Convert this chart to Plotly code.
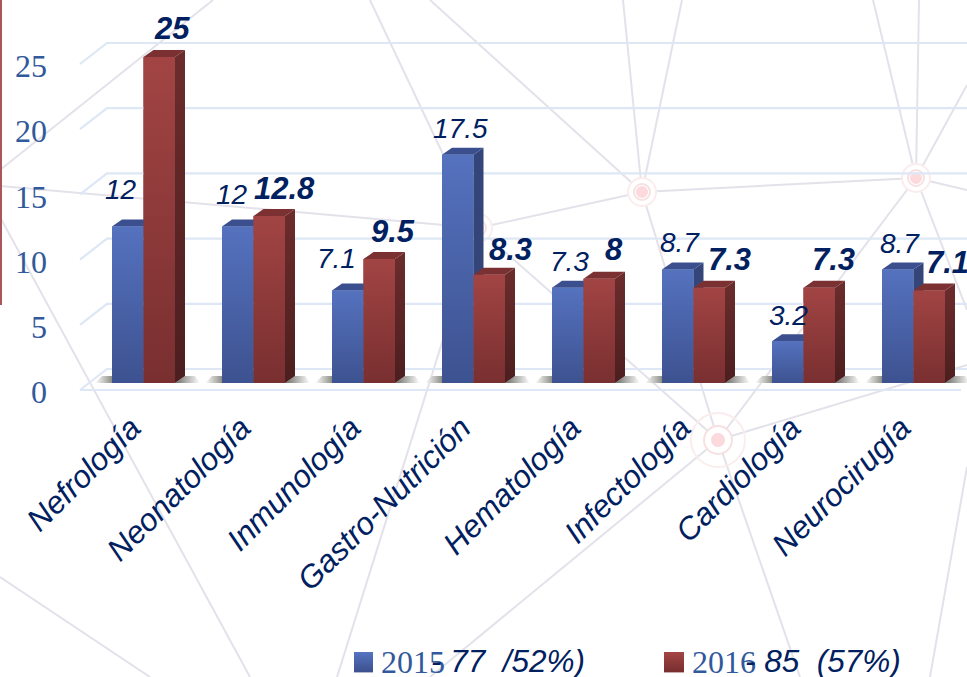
import plotly.graph_objects as go

# ---- data ----
categories = ["Nefrología", "Neonatología", "Inmunología", "Gastro-Nutrición",
              "Hematología", "Infectología", "Cardiología", "Neurocirugía"]
values_2015 = [12, 12, 7.1, 17.5, 7.3, 8.7, 3.2, 8.7]
values_2016 = [25, 12.8, 9.5, 8.3, 8, 7.3, 7.3, 7.1]
y_ticks = [0, 5, 10, 15, 20, 25]
series_names = ["2015", "2016"]
legend_notes = ["- 77\u00a0\u00a0/52%)", "- 85\u00a0\u00a0(57%)"]

# label placement (pixels relative to each bar's top centre)
shift_2015 = [(-7, 37), (-6, 32), (-11, 32), (3, 26), (2, 26), (2, 27), (1, 26), (2, 26)]
shift_2016 = [(13, 29), (15, 28), (14, 28), (21, 25), (15, 29), (20, 28), (14, 28), (18, 28)]

# ---- geometry / style ----
W, H = 967, 677
PLOT_L, PLOT_B = 48, 395
PX_X, PX_Y = 110.0, 13.04       # pixels per unit
X0_PX, Y0_PX = 143.5, 383.0     # pixel of first category and of value 0
BAR = 31.5 / PX_X
DX, DY = 10 / PX_X, 7 / PX_Y    # 3D depth

xr = [(PLOT_L - X0_PX) / PX_X, (W - X0_PX) / PX_X]
yr = [(Y0_PX - PLOT_B) / PX_Y, Y0_PX / PX_Y]
yr2 = [(392 - PLOT_B) / PX_Y, 392 / PX_Y]

NAVY = "#002060"
TICK = "#32599b"
GRID = "#dde7f5"
NET = "#e3e2ea"
SANS = "Liberation Sans"
SERIF = "Liberation Serif"

STYLE = {
    "2015": dict(base="#4a64ab", front=("#5572bf", "#3d5290"), side="#344679", top="#3b4f8e"),
    "2016": dict(base="#8c3838", front=("#a24444", "#792f30"), side=("#6c2c2c", "#4c1e1f"), top="#7b3132"),
}


def poly(xs, ys, color=None, grad=None, gtype="vertical"):
    kw = dict(x=xs, y=ys, mode="lines", line=dict(width=0), fill="toself",
              hoverinfo="skip", showlegend=False)
    if grad:
        kw["fillgradient"] = dict(type=gtype, colorscale=[[0, grad[0]], [1, grad[1]]])
        kw["fillcolor"] = grad[0]
    else:
        kw["fillcolor"] = color
    return go.Scatter(**kw)


def mix(c1, c2, t):
    a = [int(c1[i:i + 2], 16) for i in (1, 3, 5)]
    b = [int(c2[i:i + 2], 16) for i in (1, 3, 5)]
    return "#" + "".join(f"{round(p + (q - p) * t):02x}" for p, q in zip(a, b))


fig = go.Figure()

# real bars (base layer) – carry the data
offsets = [-BAR, 0]
for name, vals, off in zip(series_names, [values_2015, values_2016], offsets):
    fig.add_trace(go.Bar(x=list(range(len(vals))), y=vals, width=BAR, offset=off, name=name,
                         marker=dict(color=STYLE[name]["base"], line=dict(width=0)), showlegend=False))

# back grid + perspective ticks
for t in y_ticks:
    fig.add_trace(go.Scatter(x=[(80 - X0_PX) / PX_X, (107 - X0_PX) / PX_X, xr[1]],
                             y=[t - 7 / PX_Y, t + 14 / PX_Y, t + 14 / PX_Y],
                             mode="lines", line=dict(color=GRID, width=2.2),
                             hoverinfo="skip", showlegend=False))
fig.add_trace(go.Scatter(x=[(80 - X0_PX) / PX_X, (961 - X0_PX) / PX_X], y=[-7 / PX_Y, -7 / PX_Y],
                         mode="lines", line=dict(color=GRID, width=2.2),
                         hoverinfo="skip", showlegend=False))

# floor shadows
for i in range(len(categories)):
    ybot, ytop = 0, DY
    l = i - BAR
    r = i + BAR
    fig.add_trace(poly([l - 17 / PX_X, l, l, l - 10 / PX_X], [ybot, ybot, ytop, ytop],
                       grad=("#ffffff", "#8f8f89"), gtype="horizontal"))
    fig.add_trace(poly([r, r + 25 / PX_X, r + 20 / PX_X, r + DX], [ybot, ybot, ytop, ytop],
                       grad=("#6a6a66", "#ffffff"), gtype="horizontal"))

# 3D faces
for name, vals, off in zip(series_names, [values_2015, values_2016], offsets):
    st = STYLE[name]
    for i, v in enumerate(vals):
        l, r = i + off, i + off + BAR
        side = st["side"]
        if isinstance(side, tuple):
            fig.add_trace(poly([r, r + DX, r + DX, r], [0, DY, v + DY, v], grad=(side[1], side[0])))
        else:
            fig.add_trace(poly([r, r + DX, r + DX, r], [0, DY, v + DY, v], color=side))
        fig.add_trace(poly([l, r, r + DX, l + DX], [v, v, v + DY, v + DY], color=st["top"]))
        fig.add_trace(poly([l, r, r, l], [0, 0, v, v], grad=(st["front"][1], st["front"][0])))

# value labels
ann = []
for i, (v, s) in enumerate(zip(values_2015, shift_2015)):
    ann.append(dict(x=i - BAR / 2, y=v, xref="x", yref="y", text=str(v), showarrow=False,
                    xshift=s[0], yshift=s[1], xanchor="center", yanchor="middle",
                    font=dict(family=SANS, size=28, color=NAVY, style="italic")))
for i, (v, s) in enumerate(zip(values_2016, shift_2016)):
    ann.append(dict(x=i + BAR / 2, y=v, xref="x", yref="y", text=str(v), showarrow=False,
                    xshift=s[0], yshift=s[1], xanchor="center", yanchor="middle",
                    font=dict(family=SANS, size=31, color=NAVY, style="italic", weight="bold")))


def px(x):
    return (x - PLOT_L) / (W - PLOT_L)


def py(y):
    return 1 - y / PLOT_B


# hand-set legend
shapes = []
legend_pos = [(354, 373, 381, 431), (664, 684, 692, 745)]
swatch = [STYLE["2015"]["front"], STYLE["2016"]["front"]]
STRIPS = 10
for (x0, x1, xt, xn), name, note, sw in zip(legend_pos, series_names, legend_notes, swatch):
    for k in range(STRIPS):
        top = 652 + 20 * k / STRIPS
        bot = 652 + 20 * (k + 1) / STRIPS
        shapes.append(dict(type="rect", xref="paper", yref="paper", x0=px(x0), x1=px(x1),
                           y0=py(bot + 0.4), y1=py(top), fillcolor=mix(sw[0], sw[1], k / (STRIPS - 1)),
                           line=dict(width=0), layer="above"))
    ann.append(dict(x=px(xt), y=py(662), xref="paper", yref="paper", text=name, showarrow=False,
                    xanchor="left", yanchor="middle", xshift=-2,
                    font=dict(family=SERIF, size=32, color=TICK)))
    ann.append(dict(x=px(xn), y=py(661), xref="paper", yref="paper", text=note, showarrow=False,
                    xanchor="left", yanchor="middle", xshift=-2,
                    font=dict(family=SANS, size=31.5, color=NAVY, style="italic")))

# background network decoration
n1, n2, n3, n4 = (642, 192), (916, 178), (718, 440), (478, 228)
net_lines = [
    ((0, 170), (213, 0)), ((0, 186), n4), ((0, 217), (250, 677)),
    (n4, n1), (n1, n2), (n4, (370, 0)), (n4, (337, 677)), (n4, n3),
    (n1, (430, 0)), (n1, (623, 0)), (n1, (682, 0)), (n1, n3),
    (n2, (873, 0)), (n2, (919, 0)), (n2, (967, 85)), (n2, (967, 190)), (n2, (967, 310)), (n2, n3),
    (n3, (967, 365)), (n3, (800, 677)), (n3, (430, 677)),
    ((0, 577), (150, 677)), ((967, 467), (930, 677)),
]
for a, b in net_lines:
    shapes.append(dict(type="line", xref="paper", yref="paper", layer="below",
                       x0=px(a[0]), y0=py(a[1]), x1=px(b[0]), y1=py(b[1]),
                       line=dict(color=NET, width=2)))
for (cx, cy), r_list in [(n1, [14, 8, 5]), (n2, [14, 8, 5]), (n3, [27, 14, 6]), (n4, [14, 8, 5])]:
    for r, fc, lc in zip(r_list, ["#ffffff", "#ffffff", "#fbd9dc"], ["#fbeced", "#f7e0e2", "#fbd9dc"]):
        shapes.append(dict(type="circle", xref="paper", yref="paper", layer="below",
                           x0=px(cx - r), x1=px(cx + r), y0=py(cy + r), y1=py(cy - r),
                           fillcolor=fc if r != 27 else "rgba(255,255,255,0)",
                           line=dict(color=lc, width=2)))

# left red strip
shapes.append(dict(type="rect", xref="paper", yref="paper", layer="below",
                   x0=px(0), x1=px(2), y0=py(305), y1=py(0), fillcolor="#a9575c", line=dict(width=0)))

# invisible trace to activate the tick-label axis
fig.add_trace(go.Scatter(x=[0], y=[0], yaxis="y2", mode="markers", marker=dict(opacity=0),
                         hoverinfo="skip", showlegend=False))

fig.update_layout(
    width=W, height=H, margin=dict(l=PLOT_L, r=0, t=0, b=H - PLOT_B),
    paper_bgcolor="white", plot_bgcolor="rgba(0,0,0,0)",
    showlegend=False, shapes=shapes, annotations=ann,
    xaxis=dict(range=xr, tickmode="array", tickvals=list(range(len(categories))), ticktext=categories,
               tickangle=-45, showgrid=False, zeroline=False, showline=False,
               ticks="outside", ticklen=1, tickcolor="rgba(0,0,0,0)", ticklabelshift=-12,
               tickfont=dict(family=SANS, size=31.5, color=NAVY, style="italic")),
    yaxis=dict(range=yr, visible=False, showgrid=False, zeroline=False),
    yaxis2=dict(range=yr2, overlaying="y", side="left", tickmode="array", tickvals=y_ticks,
                showgrid=False, zeroline=False, showline=False, ticks="", ticklabelstandoff=0,
                tickfont=dict(family=SERIF, size=32, color=TICK)),
)

fig.write_html("out.html", config=dict(displayModeBar=False),
               post_script="document.body.style.margin='0';document.documentElement.style.overflow='hidden';")
